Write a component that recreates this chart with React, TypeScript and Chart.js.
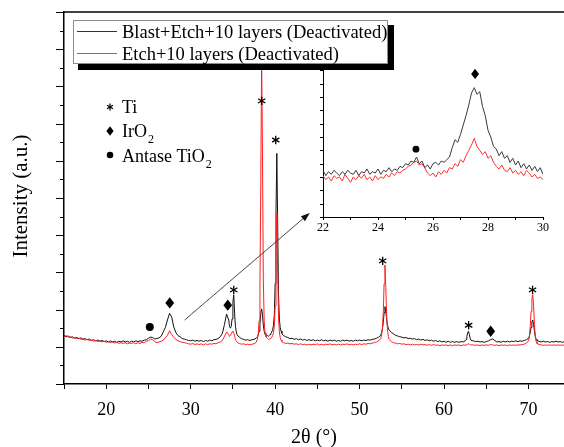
import React, { useEffect, useRef } from "react";
import { Chart, registerables } from "chart.js";

Chart.register(...registerables);

const SERIF = "'Liberation Serif', 'Times New Roman', Times, serif";

// ---------- main pattern data ----------
const twoTheta = [
  15, 15.25, 15.5, 15.75, 16, 16.25, 16.5, 16.75, 17, 17.25,
  17.5, 17.75, 18, 18.25, 18.5, 18.75, 19, 19.25, 19.5, 19.75,
  20, 20.25, 20.5, 20.75, 21, 21.25, 21.5, 21.75, 22, 22.25,
  22.5, 22.75, 23, 23.25, 23.5, 23.75, 24, 24.25, 24.5, 24.75,
  25, 25.25, 25.5, 25.75, 26, 26.25, 26.5, 26.75, 27, 27.25,
  27.5, 27.75, 28, 28.25, 28.5, 28.75, 29, 29.25, 29.5, 29.75,
  30, 30.25, 30.5, 30.75, 31, 31.25, 31.5, 31.75, 32, 32.25,
  32.5, 32.75, 33, 33.25, 33.5, 33.75, 34, 34.25, 34.5,
  34.6, 34.7, 34.8, 34.9, 35.0, 35.1, 35.2, 35.3, 35.4, 35.5,
  35.75, 36, 36.25, 36.5, 36.75, 37, 37.25, 37.5, 37.75,
  37.9, 38.0, 38.1, 38.2, 38.3, 38.4, 38.5, 38.6, 38.7, 38.8,
  38.9, 39.0, 39.1, 39.2, 39.3, 39.4, 39.5, 39.6, 39.7, 39.8,
  39.9, 40.0, 40.1, 40.2, 40.3, 40.4, 40.5, 40.6, 40.7, 40.8,
  40.9,
  41, 41.25, 41.5, 41.75, 42, 42.25, 42.5, 42.75, 43, 43.25,
  43.5, 43.75, 44, 44.25, 44.5, 44.75, 45, 45.25, 45.5, 45.75,
  46, 46.25, 46.5, 46.75, 47, 47.25, 47.5, 47.75, 48, 48.25,
  48.5, 48.75, 49, 49.25, 49.5, 49.75, 50, 50.25, 50.5, 50.75,
  51, 51.25, 51.5, 51.75, 52, 52.25, 52.5,
  52.6, 52.7, 52.8, 52.9, 53.0, 53.1, 53.2, 53.3, 53.4, 53.5,
  53.75, 54, 54.25, 54.5, 54.75, 55, 55.25, 55.5, 55.75, 56,
  56.25, 56.5, 56.75, 57, 57.25, 57.5, 57.75, 58, 58.25, 58.5,
  58.75, 59, 59.25, 59.5, 59.75, 60, 60.25, 60.5, 60.75, 61,
  61.25, 61.5, 61.75, 62, 62.25, 62.5,
  62.6, 62.7, 62.8, 62.9, 63.0, 63.1, 63.2,
  63.5, 63.75, 64, 64.25, 64.5, 64.75, 65, 65.25, 65.5, 65.75,
  66, 66.25, 66.5, 66.75, 67, 67.25, 67.5, 67.75, 68, 68.25,
  68.5, 68.75, 69, 69.25, 69.5, 69.75, 70,
  70.1, 70.2, 70.3, 70.4, 70.5, 70.6, 70.7, 70.8, 70.9, 71.0,
  71.25, 71.5, 71.75, 72, 72.25, 72.5, 72.75, 73, 73.25, 73.5,
  73.75, 74, 74.25,
];

const blastEtch = [
  1.30, 1.27, 1.29, 1.25, 1.27, 1.23, 1.25, 1.22, 1.24, 1.20,
  1.22, 1.19, 1.21, 1.17, 1.19, 1.16, 1.18, 1.15, 1.17, 1.14,
  1.16, 1.13, 1.16, 1.13, 1.15, 1.12, 1.15, 1.13, 1.16, 1.13,
  1.15, 1.12, 1.15, 1.13, 1.16, 1.14, 1.16, 1.15, 1.18, 1.19,
  1.23, 1.26, 1.25, 1.21, 1.22, 1.24, 1.28, 1.40, 1.52, 1.72,
  1.90, 1.80, 1.53, 1.38, 1.30, 1.27, 1.22, 1.21, 1.19, 1.17,
  1.16, 1.18, 1.15, 1.17, 1.15, 1.17, 1.14, 1.17, 1.15, 1.18,
  1.16, 1.19, 1.20, 1.22, 1.27, 1.36, 1.60, 1.88, 1.72,
  1.55, 1.50, 1.55, 1.75, 2.20, 2.40, 1.90, 1.55, 1.40, 1.32,
  1.26, 1.22, 1.20, 1.18, 1.19, 1.17, 1.19, 1.20, 1.23,
  1.27, 1.32, 1.42, 1.62, 1.90, 2.02, 1.85, 1.58, 1.42, 1.34,
  1.30, 1.28, 1.30, 1.28, 1.31, 1.33, 1.36, 1.40, 1.46, 1.58,
  1.85, 2.70, 4.60, 6.20, 4.30, 2.40, 1.75, 1.52, 1.42, 1.36,
  1.32,
  1.30, 1.27, 1.25, 1.22, 1.23, 1.20, 1.22, 1.19, 1.21, 1.18,
  1.20, 1.17, 1.19, 1.17, 1.19, 1.16, 1.18, 1.16, 1.19, 1.16,
  1.18, 1.15, 1.18, 1.16, 1.18, 1.15, 1.17, 1.15, 1.18, 1.16,
  1.18, 1.15, 1.17, 1.15, 1.18, 1.16, 1.18, 1.16, 1.18, 1.17,
  1.19, 1.18, 1.20, 1.21, 1.23, 1.26, 1.31,
  1.38, 1.48, 1.65, 1.92, 2.08, 1.95, 1.74, 1.58, 1.50, 1.45,
  1.39, 1.35, 1.31, 1.29, 1.27, 1.26, 1.24, 1.25, 1.22, 1.23,
  1.21, 1.22, 1.19, 1.21, 1.18, 1.20, 1.17, 1.19, 1.16, 1.18,
  1.15, 1.17, 1.14, 1.16, 1.13, 1.15, 1.12, 1.15, 1.12, 1.14,
  1.12, 1.14, 1.12, 1.14, 1.13, 1.16,
  1.20, 1.28, 1.38, 1.42, 1.32, 1.22, 1.17,
  1.16, 1.14, 1.15, 1.13, 1.14, 1.12, 1.14, 1.16, 1.19, 1.21,
  1.17, 1.13, 1.14, 1.12, 1.15, 1.13, 1.15, 1.13, 1.15, 1.14,
  1.16, 1.14, 1.16, 1.15, 1.17, 1.19, 1.23,
  1.28, 1.38, 1.52, 1.68, 1.72, 1.60, 1.42, 1.28, 1.20, 1.17,
  1.15, 1.13, 1.15, 1.13, 1.14, 1.12, 1.14, 1.13, 1.15, 1.13,
  1.14, 1.12, 1.14,
];

const etchOnly = [
  1.28, 1.30, 1.26, 1.27, 1.23, 1.25, 1.22, 1.23, 1.20, 1.22,
  1.18, 1.20, 1.17, 1.18, 1.15, 1.17, 1.14, 1.16, 1.13, 1.15,
  1.12, 1.14, 1.11, 1.13, 1.10, 1.12, 1.09, 1.11, 1.09, 1.11,
  1.08, 1.10, 1.09, 1.11, 1.08, 1.11, 1.09, 1.12, 1.11, 1.15,
  1.16, 1.21, 1.19, 1.14, 1.11, 1.13, 1.15, 1.18, 1.24, 1.31,
  1.43, 1.33, 1.25, 1.20, 1.16, 1.14, 1.12, 1.11, 1.10, 1.08,
  1.07, 1.09, 1.06, 1.08, 1.06, 1.08, 1.05, 1.08, 1.06, 1.08,
  1.07, 1.09, 1.08, 1.11, 1.13, 1.17, 1.28, 1.40, 1.33,
  1.28, 1.30, 1.35, 1.40, 1.42, 1.38, 1.28, 1.20, 1.15, 1.12,
  1.09, 1.07, 1.08, 1.06, 1.07, 1.05, 1.07, 1.08, 1.12,
  1.20, 1.35, 1.70, 2.60, 5.40, 8.80, 6.20, 2.80, 1.70, 1.38,
  1.28, 1.24, 1.22, 1.20, 1.21, 1.22, 1.24, 1.26, 1.30, 1.38,
  1.55, 2.10, 3.40, 4.60, 3.10, 1.80, 1.40, 1.25, 1.18, 1.14,
  1.12,
  1.11, 1.09, 1.10, 1.08, 1.09, 1.07, 1.08, 1.06, 1.08, 1.06,
  1.07, 1.05, 1.07, 1.05, 1.07, 1.06, 1.08, 1.05, 1.07, 1.05,
  1.07, 1.06, 1.08, 1.05, 1.07, 1.05, 1.07, 1.05, 1.07, 1.06,
  1.08, 1.05, 1.07, 1.05, 1.07, 1.06, 1.08, 1.06, 1.08, 1.07,
  1.09, 1.08, 1.10, 1.11, 1.13, 1.16, 1.22,
  1.32, 1.50, 1.90, 2.70, 3.20, 2.60, 1.85, 1.45, 1.28, 1.20,
  1.14, 1.11, 1.10, 1.08, 1.09, 1.07, 1.08, 1.06, 1.07, 1.05,
  1.07, 1.05, 1.06, 1.05, 1.07, 1.05, 1.06, 1.04, 1.06, 1.04,
  1.06, 1.04, 1.05, 1.03, 1.05, 1.04, 1.05, 1.03, 1.05, 1.03,
  1.05, 1.04, 1.05, 1.03, 1.05, 1.04,
  1.05, 1.06, 1.07, 1.08, 1.07, 1.06, 1.05,
  1.05, 1.04, 1.05, 1.03, 1.05, 1.04, 1.05, 1.04, 1.06, 1.05,
  1.04, 1.05, 1.03, 1.05, 1.04, 1.05, 1.03, 1.05, 1.04, 1.05,
  1.04, 1.05, 1.05, 1.06, 1.07, 1.10, 1.16,
  1.28, 1.55, 1.95, 2.30, 2.40, 2.10, 1.60, 1.28, 1.14, 1.09,
  1.06, 1.05, 1.04, 1.05, 1.04, 1.05, 1.04, 1.05, 1.04, 1.05,
  1.04, 1.05, 1.04,
];

// ---------- inset data (22-30 deg) ----------
const insetTheta = [
  22, 22.1, 22.2, 22.3, 22.4, 22.5, 22.6, 22.7, 22.8, 22.9,
  23, 23.1, 23.2, 23.3, 23.4, 23.5, 23.6, 23.7, 23.8, 23.9,
  24, 24.1, 24.2, 24.3, 24.4, 24.5, 24.6, 24.7, 24.8, 24.9,
  25, 25.1, 25.2, 25.3, 25.4, 25.5, 25.6, 25.7, 25.8, 25.9,
  26, 26.1, 26.2, 26.3, 26.4, 26.5, 26.6, 26.7, 26.8, 26.9,
  27, 27.1, 27.2, 27.3, 27.4, 27.5, 27.6, 27.7, 27.8, 27.9,
  28, 28.1, 28.2, 28.3, 28.4, 28.5, 28.6, 28.7, 28.8, 28.9,
  29, 29.1, 29.2, 29.3, 29.4, 29.5, 29.6, 29.7, 29.8, 29.9,
  30,
];
const insetBlastEtch = [
  3.5, 3.1, 3.4, 3.2, 3.5, 3.3, 3.1, 3.4, 3.2, 3.5,
  3.3, 3.2, 3.5, 3.1, 3.4, 3.3, 3.6, 3.2, 3.4, 3.3,
  3.6, 3.2, 3.5, 3.4, 3.7, 3.4, 3.6, 3.5, 3.8, 3.7,
  4.0, 3.9, 4.2, 4.1, 4.5, 4.0, 4.2, 3.7, 3.9, 3.6,
  4.0, 4.1, 3.9, 4.2, 4.1, 4.3, 4.5, 5.2, 5.8, 5.6,
  6.2, 6.9, 7.6, 8.4, 9.3, 9.7, 9.2, 9.4, 8.3, 7.6,
  6.5, 6.0, 5.3, 5.1, 4.6, 4.9, 4.4, 4.6, 4.1, 4.4,
  3.9, 4.2, 3.7, 4.0, 3.6, 3.9, 3.5, 3.8, 3.4, 3.7,
  3.2,
];
const insetEtch = [
  3.1, 2.8, 3.0, 2.7, 3.1, 2.9, 3.0, 2.7, 3.2, 2.9,
  2.6, 3.0, 2.8, 3.1, 2.9, 3.2, 2.8, 3.0, 2.7, 3.1,
  2.8, 3.0, 2.9, 3.2, 3.0, 3.3, 3.1, 3.4, 3.3, 3.5,
  3.6, 3.8, 3.9, 4.1, 4.2, 3.9, 4.0, 3.7, 3.3, 3.1,
  3.3, 3.0, 3.4, 3.2, 3.5, 3.3, 3.7, 3.6, 4.0, 3.8,
  4.3, 4.1, 4.6, 5.0, 5.4, 5.9, 5.3, 5.0, 4.7, 4.9,
  4.4, 4.6, 4.1, 3.8, 3.6, 3.9, 3.5, 3.4, 3.7, 3.3,
  3.5, 3.2, 3.4, 3.1, 3.5, 3.3, 3.0, 3.2, 2.9, 3.0,
  2.8,
];

// ---------- labels / ticks ----------
const seriesLabels = ["Blast+Etch+10 layers (Deactivated)", "Etch+10 layers (Deactivated)"];
const xAxisTitle = "2\u03B8 (\u00B0)";
const yAxisTitle = "Intensity (a.u.)";
const mainXTicks = [15, 20, 25, 30, 35, 40, 45, 50, 55, 60, 65, 70];
const mainXTickLabels = [20, 30, 40, 50, 60, 70];
const mainYTicks = [0, 0.5, 1, 1.5, 2, 2.5, 3, 3.5, 4, 4.5, 5, 5.5, 6, 6.5, 7, 7.5, 8, 8.5, 9, 9.5, 10];
const insetXTicks = [22, 23, 24, 25, 26, 27, 28, 29, 30];
const insetXTickLabels = [22, 24, 26, 28, 30];
const insetYTicks = [0, 1, 2, 3, 4, 5, 6, 7, 8, 9, 10, 11];

// phase markers on the main pattern (symbol, 2theta, intensity)
const markerSymbol = ["dot", "diamond", "diamond", "star", "star", "star", "star", "star", "diamond", "star"];
const markerTheta = [25.16, 27.52, 34.39, 35.1, 38.41, 40.07, 52.73, 62.91, 65.52, 70.48];
const markerLevel = [1.53, 2.18, 2.12, 2.53, 7.61, 6.56, 3.31, 1.58, 1.42, 2.53];
// inset markers
const insetMarkerSymbol = ["dot", "diamond"];
const insetMarkerTheta = [25.38, 27.53];
const insetMarkerLevel = [5.09, 10.73];
// arrow (2theta, intensity) from -> to
const arrowFrom = [29.28, 1.72];
const arrowTo = [44.1, 4.6];

const phaseLegend = [
  { sym: "star", text: "Ti", sub: "" },
  { sym: "diamond", text: "IrO", sub: "2" },
  { sym: "dot", text: "Antase TiO", sub: "2" },
];

function drawSymbol(ctx: CanvasRenderingContext2D, sym: string, x: number, y: number, s: number) {
  ctx.save();
  ctx.fillStyle = "#000";
  ctx.strokeStyle = "#000";
  if (sym === "dot") {
    ctx.beginPath();
    ctx.arc(x, y, 4 * s, 0, Math.PI * 2);
    ctx.fill();
  } else if (sym === "diamond") {
    ctx.beginPath();
    ctx.moveTo(x, y - 5.7 * s);
    ctx.lineTo(x + 4.4 * s, y);
    ctx.lineTo(x, y + 5.7 * s);
    ctx.lineTo(x - 4.4 * s, y);
    ctx.closePath();
    ctx.fill();
  } else {
    ctx.lineWidth = 1.3;
    const r = 4.2 * s;
    for (const a of [90, 30, 150]) {
      const rad = (a * Math.PI) / 180;
      ctx.beginPath();
      ctx.moveTo(x - r * Math.cos(rad), y - r * Math.sin(rad));
      ctx.lineTo(x + r * Math.cos(rad), y + r * Math.sin(rad));
      ctx.stroke();
    }
  }
  ctx.restore();
}

const mainDecor = {
  id: "mainDecor",
  afterDraw(chart: any) {
    const ctx: CanvasRenderingContext2D = chart.ctx;
    const xs = chart.scales.x;
    const ys = chart.scales.y;
    const ca = chart.chartArea;
    ctx.save();

    // y-axis ticks (outside)
    ctx.strokeStyle = "#000";
    ctx.lineWidth = 1;
    for (const v of mainYTicks) {
      const py = Math.round(ys.getPixelForValue(v)) + 0.5;
      const len = Number.isInteger(v) ? 8 : 4;
      ctx.beginPath();
      ctx.moveTo(ca.left - len, py);
      ctx.lineTo(ca.left, py);
      ctx.stroke();
    }
    // top frame line
    ctx.lineWidth = 1.5;
    ctx.beginPath();
    ctx.moveTo(ca.left, ca.top);
    ctx.lineTo(ca.right, ca.top);
    ctx.stroke();

    // arrow
    const ax0 = xs.getPixelForValue(arrowFrom[0]);
    const ay0 = ys.getPixelForValue(arrowFrom[1]);
    const ax1 = xs.getPixelForValue(arrowTo[0]);
    const ay1 = ys.getPixelForValue(arrowTo[1]);
    const ang = Math.atan2(ay1 - ay0, ax1 - ax0);
    ctx.strokeStyle = "#333";
    ctx.fillStyle = "#111";
    ctx.lineWidth = 0.9;
    ctx.beginPath();
    ctx.moveTo(ax0, ay0);
    ctx.lineTo(ax1 - 6 * Math.cos(ang), ay1 - 6 * Math.sin(ang));
    ctx.stroke();
    ctx.beginPath();
    ctx.moveTo(ax1, ay1);
    ctx.lineTo(ax1 - 9 * Math.cos(ang) + 3.2 * Math.sin(ang), ay1 - 9 * Math.sin(ang) - 3.2 * Math.cos(ang));
    ctx.lineTo(ax1 - 9 * Math.cos(ang) - 3.2 * Math.sin(ang), ay1 - 9 * Math.sin(ang) + 3.2 * Math.cos(ang));
    ctx.closePath();
    ctx.fill();

    // peak markers
    markerSymbol.forEach((sym, i) => {
      drawSymbol(ctx, sym, xs.getPixelForValue(markerTheta[i]), ys.getPixelForValue(markerLevel[i]), 1);
    });

    // phase legend (left)
    const lx = ca.left + 46;
    const textX = ca.left + 58;
    const rows = [107, 131, 155];
    const baselines = [113, 137, 162];
    phaseLegend.forEach((item, i) => {
      drawSymbol(ctx, item.sym, lx, rows[i], 0.82);
      ctx.fillStyle = "#000";
      ctx.textBaseline = "alphabetic";
      ctx.textAlign = "left";
      ctx.font = `18px ${SERIF}`;
      ctx.fillText(item.text, textX, baselines[i]);
      if (item.sub) {
        const w = ctx.measureText(item.text).width;
        ctx.font = `12px ${SERIF}`;
        ctx.fillText(item.sub, textX + w + 1, baselines[i] + 6);
      }
    });

    // series legend box with shadow
    const bx = 73, by = 20, bw = 315, bh = 44;
    ctx.fillStyle = "#000";
    ctx.fillRect(bx + 5, by + 5, bw + 1, bh + 1);
    ctx.fillStyle = "#fff";
    ctx.fillRect(bx, by, bw, bh);
    ctx.strokeStyle = "#8c8c8c";
    ctx.lineWidth = 1;
    ctx.strokeRect(bx + 0.5, by + 0.5, bw - 1, bh - 1);
    const legendColors = ["#333", "#ff3b3b"];
    const legendY = [31.5, 53.5];
    const legendBase = [37.5, 60];
    seriesLabels.forEach((lab, i) => {
      ctx.strokeStyle = legendColors[i];
      ctx.lineWidth = 1;
      ctx.beginPath();
      ctx.moveTo(bx + 4, legendY[i]);
      ctx.lineTo(bx + 44, legendY[i]);
      ctx.stroke();
      ctx.fillStyle = "#000";
      ctx.font = `18.5px ${SERIF}`;
      ctx.textAlign = "left";
      ctx.textBaseline = "alphabetic";
      ctx.fillText(lab, bx + 49, legendBase[i]);
    });

    // axis titles
    ctx.fillStyle = "#000";
    ctx.font = `20px ${SERIF}`;
    ctx.textAlign = "center";
    ctx.textBaseline = "alphabetic";
    ctx.fillText(xAxisTitle, (ca.left + ca.right) / 2, 443);
    ctx.save();
    ctx.translate(27, (ca.top + ca.bottom) / 2 - 2);
    ctx.rotate(-Math.PI / 2);
    ctx.font = `21px ${SERIF}`;
    ctx.fillText(yAxisTitle, 0, 0);
    ctx.restore();

    ctx.restore();
  },
};

const insetDecor = {
  id: "insetDecor",
  afterDraw(chart: any) {
    const ctx: CanvasRenderingContext2D = chart.ctx;
    const xs = chart.scales.x;
    const ys = chart.scales.y;
    const ca = chart.chartArea;
    ctx.save();
    ctx.strokeStyle = "#000";
    ctx.lineWidth = 1;
    for (const v of insetYTicks) {
      const py = Math.round(ys.getPixelForValue(v)) + 0.5;
      ctx.beginPath();
      ctx.moveTo(ca.left - 3, py);
      ctx.lineTo(ca.left, py);
      ctx.stroke();
    }
    insetMarkerSymbol.forEach((sym, i) => {
      drawSymbol(ctx, sym, xs.getPixelForValue(insetMarkerTheta[i]), ys.getPixelForValue(insetMarkerLevel[i]), sym === "dot" ? 0.85 : 0.9);
    });
    ctx.restore();
  },
};

export default function App() {
  const mainRef = useRef<HTMLCanvasElement | null>(null);
  const insetRef = useRef<HTMLCanvasElement | null>(null);

  useEffect(() => {
    if (!mainRef.current || !insetRef.current) return;
    const n = Math.min(twoTheta.length, blastEtch.length, etchOnly.length);
    const blackPts = [] as { x: number; y: number }[];
    const redPts = [] as { x: number; y: number }[];
    for (let i = 0; i < n; i++) {
      blackPts.push({ x: twoTheta[i], y: blastEtch[i] });
      redPts.push({ x: twoTheta[i], y: etchOnly[i] });
    }

    const main = new Chart(mainRef.current, {
      type: "line",
      data: {
        datasets: [
          { label: seriesLabels[1], data: redPts, borderColor: "#ff1f1f", borderWidth: 1, pointRadius: 0, fill: false, tension: 0, order: 1 },
          { label: seriesLabels[0], data: blackPts, borderColor: "#111", borderWidth: 1, pointRadius: 0, fill: false, tension: 0, order: 2 },
        ],
      },
      options: {
        animation: false,
        responsive: false,
        devicePixelRatio: 1,
        events: [],
        layout: { padding: { top: 12, left: 0, right: 0, bottom: 0 } },
        plugins: { legend: { display: false }, tooltip: { enabled: false }, title: { display: false } },
        scales: {
          x: {
            type: "linear",
            min: 15,
            max: 74.2,
            afterBuildTicks: (s: any) => {
              s.ticks = mainXTicks.map((v) => ({ value: v }));
            },
            afterFit: (s: any) => {
              s.height = 63;
            },
            ticks: {
              autoSkip: false,
              maxRotation: 0,
              color: "#000",
              padding: 10,
              font: { family: SERIF, size: 18 },
              callback: (v: any) => (mainXTickLabels.includes(Number(v)) ? String(v) : ""),
            },
            grid: { drawOnChartArea: false, drawTicks: true, tickLength: 5, color: "#000", tickColor: "#000", lineWidth: 1 },
            border: { display: true, color: "#000", width: 1.5 },
          },
          y: {
            type: "linear",
            min: 0,
            max: 10,
            ticks: { display: false },
            grid: { display: false },
            border: { display: true, color: "#000", width: 1.5 },
            afterFit: (s: any) => {
              s.width = 64;
            },
          },
        },
      },
      plugins: [mainDecor],
    } as any);

    const inset = new Chart(insetRef.current, {
      type: "line",
      data: {
        datasets: [
          { label: seriesLabels[0], data: insetTheta.map((x, i) => ({ x, y: insetBlastEtch[i] })), borderColor: "#3a3a3a", borderWidth: 1, pointRadius: 0, fill: false, tension: 0 },
          { label: seriesLabels[1], data: insetTheta.map((x, i) => ({ x, y: insetEtch[i] })), borderColor: "#ff3030", borderWidth: 1, pointRadius: 0, fill: false, tension: 0 },
        ],
      },
      options: {
        animation: false,
        responsive: false,
        devicePixelRatio: 1,
        events: [],
        layout: { padding: { top: 15, left: 0, right: 17, bottom: 0 } },
        plugins: { legend: { display: false }, tooltip: { enabled: false }, title: { display: false } },
        scales: {
          x: {
            type: "linear",
            min: 22,
            max: 30,
            afterBuildTicks: (s: any) => {
              s.ticks = insetXTicks.map((v) => ({ value: v }));
            },
            afterFit: (s: any) => {
              s.height = 28;
            },
            ticks: {
              autoSkip: false,
              maxRotation: 0,
              color: "#000",
              padding: 1,
              font: { family: SERIF, size: 12 },
              callback: (v: any) => (insetXTickLabels.includes(Number(v)) ? String(v) : ""),
            },
            grid: { drawOnChartArea: false, drawTicks: true, tickLength: 3, color: "#000", tickColor: "#000", lineWidth: 1 },
            border: { display: true, color: "#000", width: 1 },
          },
          y: {
            type: "linear",
            min: 0,
            max: 11.4,
            ticks: { display: false },
            grid: { display: false },
            border: { display: true, color: "#000", width: 1 },
            afterFit: (s: any) => {
              s.width = 33;
            },
          },
        },
      },
      plugins: [insetDecor],
    } as any);

    return () => {
      main.destroy();
      inset.destroy();
    };
  }, []);

  return (
    <div style={{ position: "fixed", left: 0, top: 0, width: 564, height: 447, background: "#fff", overflow: "hidden" }}>
      <canvas ref={insetRef} width={270} height={195} style={{ position: "absolute", left: 290, top: 50, width: 270, height: 195 }} />
      <canvas ref={mainRef} width={564} height={447} style={{ position: "absolute", left: 0, top: 0, width: 564, height: 447 }} />
    </div>
  );
}
